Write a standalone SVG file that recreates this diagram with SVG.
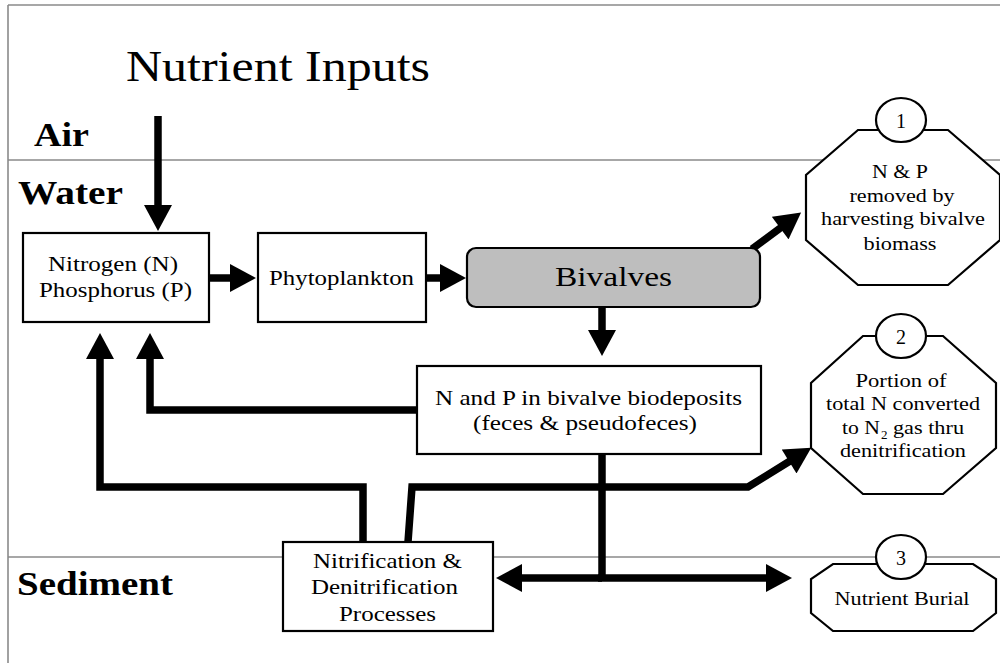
<svg xmlns="http://www.w3.org/2000/svg" width="1000" height="663" viewBox="0 0 1000 663">
<style>
text{font-family:"Liberation Serif","Times New Roman",serif;fill:#000}
.zone{font-size:33px;font-weight:bold}
.t{font-size:21px}
.o{font-size:19px;text-anchor:middle}
.box{fill:#fff;stroke:#000;stroke-width:2.2}
.oct{fill:#fff;stroke:#000;stroke-width:2.2}
.num{fill:#fff;stroke:#000;stroke-width:2.2}
.rule{stroke:#8a8a8a;stroke-width:1.6;fill:none}
.c{fill:none;stroke:#000;stroke-width:7.5;stroke-linejoin:miter}
.arr{marker-end:url(#ah)}
</style>
<defs>
<marker id="ah" markerUnits="userSpaceOnUse" markerWidth="27" markerHeight="28" viewBox="0 0 26 28" refX="1" refY="14" orient="auto">
<path d="M0,0 L26,14 L0,28 z" fill="#000"/>
</marker>
</defs>
<rect width="1000" height="663" fill="#fff"/>
<g id="frame">
<path class="rule" d="M8,5 H1000 M8,5 V663"/>
<path class="rule" d="M8,160 H1000"/>
<path class="rule" d="M8,557 H1000"/>
<text x="126" y="81" style="font-size:44px" textLength="304" lengthAdjust="spacingAndGlyphs">Nutrient Inputs</text>
<text class="zone" x="34" y="146" textLength="55" lengthAdjust="spacingAndGlyphs">Air</text>
<text class="zone" x="18" y="204" textLength="105" lengthAdjust="spacingAndGlyphs">Water</text>
<text class="zone" x="17" y="595" textLength="156" lengthAdjust="spacingAndGlyphs">Sediment</text>
</g>
<g id="connectors">
<path class="c arr" d="M158,116 V206"/>
<path class="c arr" d="M208,278 H231"/>
<path class="c arr" d="M426,278 H441"/>
<path class="c arr" d="M752,249 L781,227.5"/>
<path class="c arr" d="M602,307 V331"/>
<path class="c arr" d="M417,410 H150 V358"/>
<path class="c arr" d="M363,542 V487 H100 V358"/>
<path class="c arr" d="M408,542 L412,487 H748 L790,461"/>
<path class="c" d="M602,454 V578"/>
<path class="c arr" d="M602,578 H521"/>
<path class="c arr" d="M598,578 H767"/>
</g>
<g id="np">
<rect class="box" x="23" y="233" width="186" height="89"/>
<text class="t" x="48" y="271" textLength="130" lengthAdjust="spacingAndGlyphs">Nitrogen (N)</text>
<text class="t" x="39" y="297" textLength="153" lengthAdjust="spacingAndGlyphs">Phosphorus (P)</text>
</g>
<g id="phyto">
<rect class="box" x="258" y="233" width="168" height="89"/>
<text class="t" x="269" y="285" textLength="145" lengthAdjust="spacingAndGlyphs">Phytoplankton</text>
</g>
<g id="bivalves">
<rect x="467" y="248" width="293" height="59" rx="9" fill="#bebebe" stroke="#000" stroke-width="2.2"/>
<text x="555" y="286" style="font-size:27px" textLength="117" lengthAdjust="spacingAndGlyphs">Bivalves</text>
</g>
<g id="biodeposits">
<rect class="box" x="417" y="366" width="344" height="88"/>
<text class="t" x="435" y="405" textLength="307" lengthAdjust="spacingAndGlyphs">N and P in bivalve biodeposits</text>
<text class="t" x="473" y="430" textLength="224" lengthAdjust="spacingAndGlyphs">(feces &amp; pseudofeces)</text>
</g>
<g id="nitrification">
<rect class="box" x="283" y="542" width="210" height="89"/>
<text class="t" x="313" y="568" textLength="149" lengthAdjust="spacingAndGlyphs">Nitrification &amp;</text>
<text class="t" x="311" y="594" textLength="147" lengthAdjust="spacingAndGlyphs">Denitrification</text>
<text class="t" x="339" y="621" textLength="97" lengthAdjust="spacingAndGlyphs">Processes</text>
</g>
<g id="outcome1">
<polygon class="oct" points="858,130 948,130 1000,175 1000,240 948,285 858,285 806,240 806,175"/>
<ellipse class="num" cx="901" cy="120" rx="25" ry="22"/>
<text class="o" x="901" y="128" style="font-size:20px">1</text>
<text class="o" x="900" y="178" textLength="56" lengthAdjust="spacingAndGlyphs">N &amp; P</text>
<text class="o" x="902" y="202" textLength="105" lengthAdjust="spacingAndGlyphs">removed by</text>
<text class="o" x="903" y="225" textLength="164" lengthAdjust="spacingAndGlyphs">harvesting bivalve</text>
<text class="o" x="900" y="250" textLength="73" lengthAdjust="spacingAndGlyphs">biomass</text>
</g>
<g id="outcome2">
<polygon class="oct" points="863,336 943,336 996,383 996,448 943,494 863,494 811,448 811,383"/>
<ellipse class="num" cx="901" cy="336" rx="25" ry="22"/>
<text class="o" x="901" y="344" style="font-size:20px">2</text>
<text class="o" x="901" y="387" textLength="91" lengthAdjust="spacingAndGlyphs">Portion of</text>
<text class="o" x="903" y="410" textLength="154" lengthAdjust="spacingAndGlyphs">total N converted</text>
<text x="842" y="434" style="font-size:19px" textLength="38" lengthAdjust="spacingAndGlyphs">to N</text>
<text x="881" y="439" style="font-size:13px">2</text>
<text x="893" y="434" style="font-size:19px" textLength="71" lengthAdjust="spacingAndGlyphs">gas thru</text>
<text class="o" x="903" y="457" textLength="126" lengthAdjust="spacingAndGlyphs">denitrification</text>
</g>
<g id="outcome3">
<polygon class="oct" points="833,564 973,564 996,579 996,613 973,631 833,631 811,613 811,579"/>
<ellipse class="num" cx="901" cy="557" rx="25" ry="22"/>
<text class="o" x="901" y="565" style="font-size:20px">3</text>
<text class="o" x="902" y="605" textLength="135" lengthAdjust="spacingAndGlyphs">Nutrient Burial</text>
</g>
</svg>
